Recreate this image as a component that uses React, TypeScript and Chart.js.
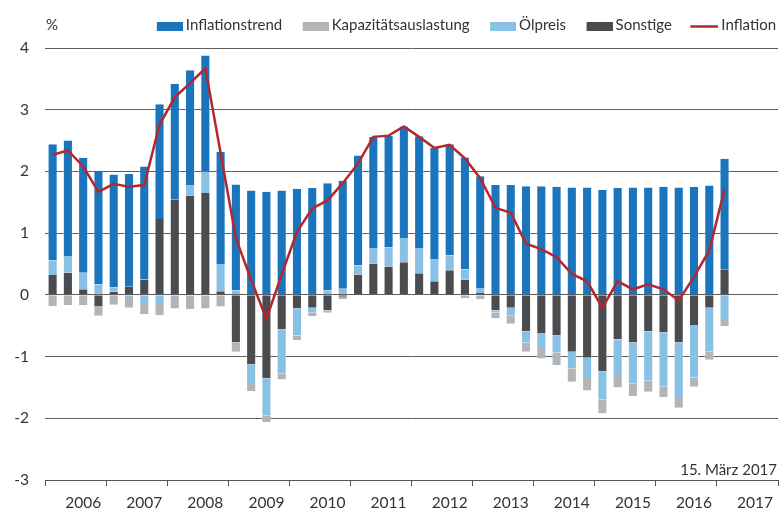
import React, { useEffect, useRef } from 'react';
import { Chart, registerables } from 'chart.js';

Chart.register(...registerables);

const years = ['2006', '2007', '2008', '2009', '2010', '2011', '2012', '2013', '2014', '2015', '2016', '2017'];
const quarters = years.flatMap((y) => ['Q1', 'Q2', 'Q3', 'Q4'].map((q) => `${y} ${q}`));

const inflationstrend = [1.88, 1.87, 1.86, 1.82, 1.83, 1.83, 1.83, 1.86, 1.88, 1.86, 1.88, 1.82, 1.72, 1.69, 1.67, 1.69, 1.72, 1.73, 1.74, 1.75, 1.78, 1.80, 1.81, 1.81, 1.81, 1.80, 1.80, 1.81, 1.81, 1.78, 1.78, 1.76, 1.76, 1.75, 1.74, 1.74, 1.70, 1.73, 1.74, 1.74, 1.75, 1.74, 1.75, 1.77, 1.79];
const kapazitaet = [-0.18, -0.17, -0.17, -0.16, -0.16, -0.16, -0.18, -0.18, -0.22, -0.23, -0.22, -0.19, -0.15, -0.13, -0.11, -0.09, -0.07, -0.065, -0.04, -0.04, 0, 0, 0, 0, 0, -0.01, -0.01, -0.05, -0.07, -0.09, -0.13, -0.15, -0.17, -0.20, -0.22, -0.22, -0.22, -0.20, -0.20, -0.18, -0.18, -0.16, -0.15, -0.13, -0.12];
const oelpreis = [0.24, 0.27, 0.27, 0.17, 0.07, -0.05, -0.13, -0.15, 0, 0.17, 0.35, 0.44, 0.07, -0.30, -0.60, -0.72, -0.44, -0.07, 0.07, 0.10, 0.15, 0.25, 0.31, 0.39, 0.41, 0.36, 0.24, 0.165, 0.08, -0.04, -0.13, -0.18, -0.24, -0.28, -0.27, -0.31, -0.46, -0.58, -0.67, -0.80, -0.87, -0.90, -0.85, -0.71, -0.39];
const sonstige = [0.32, 0.36, 0.09, -0.18, 0.05, 0.13, 0.25, 1.23, 1.54, 1.61, 1.65, 0.06, -0.77, -1.13, -1.35, -0.56, -0.22, -0.21, -0.25, -0.03, 0.33, 0.51, 0.46, 0.53, 0.35, 0.22, 0.40, 0.25, 0.03, -0.25, -0.21, -0.59, -0.62, -0.66, -0.92, -1.02, -1.24, -0.72, -0.77, -0.59, -0.61, -0.77, -0.49, -0.21, 0.415];
const inflation = [2.27, 2.34, 2.08, 1.67, 1.80, 1.75, 1.78, 2.76, 3.20, 3.43, 3.67, 2.30, 0.92, 0.24, -0.39, 0.33, 1.02, 1.40, 1.53, 1.81, 2.13, 2.56, 2.58, 2.73, 2.56, 2.38, 2.43, 2.21, 1.89, 1.41, 1.33, 0.83, 0.74, 0.61, 0.34, 0.22, -0.21, 0.22, 0.09, 0.17, 0.09, -0.09, 0.29, 0.72, 1.71];

const seriesLabels = ['Inflationstrend', 'Kapazitätsauslastung', 'Ölpreis', 'Sonstige', 'Inflation'];
const unitLabel = '%';
const dateLabel = '15. März 2017';

const COLORS = {
  trend: '#1a75bc',
  kap: '#b2b4b7',
  oel: '#88c0e6',
  sonst: '#4b4c50',
  infl: '#b5272c',
  text: '#333333',
  grid: '#5e5e5e',
};

const FONT = 'Lato, "Open Sans", sans-serif';

function makeSwatch(color: string, kind: 'box' | 'line'): HTMLCanvasElement {
  const c = document.createElement('canvas');
  c.width = 43;
  c.height = 11;
  const g = c.getContext('2d')!;
  if (kind === 'line') {
    g.strokeStyle = color;
    g.lineWidth = 2.5;
    g.beginPath();
    g.moveTo(15, 6.5);
    g.lineTo(43, 6.5);
    g.stroke();
  } else {
    g.fillStyle = color;
    g.fillRect(17, 2, 26, 9);
  }
  return c;
}

export default function App() {
  const ref = useRef<HTMLCanvasElement>(null);

  useEffect(() => {
    document.body.style.margin = '0';
    const canvas = ref.current;
    if (!canvas) return;

    const swatches = [
      makeSwatch(COLORS.trend, 'box'),
      makeSwatch(COLORS.kap, 'box'),
      makeSwatch(COLORS.oel, 'box'),
      makeSwatch(COLORS.sonst, 'box'),
      makeSwatch(COLORS.infl, 'line'),
    ];

    const legendGap = {
      id: 'legendGap',
      beforeLayout(chart: any) {
        const lg = chart.legend;
        if (lg && !lg.__gapPatched) {
          const origFit = lg.fit.bind(lg);
          lg.fit = function () {
            origFit();
            this.height += 5;
          };
          const origDraw = lg.draw.bind(lg);
          lg.draw = function () {
            const c = this.ctx;
            c.save();
            c.translate(6, 0);
            origDraw();
            c.restore();
          };
          lg.__gapPatched = true;
        }
      },
    };

    const annotations = {
      id: 'annotations',
      afterDraw(chart: any) {
        const { ctx, chartArea } = chart;
        ctx.save();
        ctx.font = `15px ${FONT}`;
        ctx.fillStyle = COLORS.text;
        ctx.textBaseline = 'alphabetic';
        ctx.textAlign = 'left';
        ctx.fillText(unitLabel, chartArea.left + 1, 30);
        ctx.textAlign = 'right';
        ctx.fillText(dateLabel, chartArea.right - 1, chartArea.bottom - 5);
        ctx.restore();
      },
    };

    const barCommon = {
      type: 'bar' as const,
      barPercentage: 0.66,
      categoryPercentage: 1,
      borderWidth: { left: 1, right: 1, top: 0, bottom: 0 },
      borderColor: 'rgba(255,255,255,0.3)',
      borderSkipped: false,
    };

    const chart = new Chart(canvas, {
      type: 'bar',
      data: {
        labels: quarters,
        datasets: [
          { ...barCommon, label: seriesLabels[0], data: inflationstrend, backgroundColor: COLORS.trend, order: 4 },
          { ...barCommon, label: seriesLabels[1], data: kapazitaet, backgroundColor: COLORS.kap, order: 3 },
          { ...barCommon, label: seriesLabels[2], data: oelpreis, backgroundColor: COLORS.oel, order: 2 },
          { ...barCommon, label: seriesLabels[3], data: sonstige, backgroundColor: COLORS.sonst, order: 1 },
          {
            type: 'line',
            label: seriesLabels[4],
            data: inflation,
            borderColor: COLORS.infl,
            backgroundColor: COLORS.infl,
            borderWidth: 2.5,
            pointRadius: 0,
            tension: 0,
            fill: false,
            order: 0,
          } as any,
        ],
      },
      options: {
        responsive: false,
        animation: false,
        devicePixelRatio: 1,
        layout: { padding: { top: 10, right: 4, left: 0, bottom: 0 } },
        plugins: {
          tooltip: { enabled: false },
          legend: {
            position: 'top',
            align: 'end',
            labels: {
              usePointStyle: true,
              pointStyleWidth: 34,
              padding: 8,
              color: COLORS.text,
              font: { family: FONT, size: 15 },
              generateLabels(ch: any) {
                const items = Chart.defaults.plugins.legend.labels.generateLabels(ch);
                return items
                  .map((it: any) => ({ ...it, pointStyle: swatches[it.datasetIndex], fontColor: COLORS.text }))
                  .sort((a: any, b: any) => a.datasetIndex - b.datasetIndex);
              },
            },
          },
        },
        scales: {
          x: {
            stacked: true,
            offset: true,
            border: { display: true, color: '#555555', width: 1 },
            grid: {
              offset: true,
              drawOnChartArea: false,
              drawTicks: true,
              tickLength: 6,
              color: (ctx: any) =>
                ctx.index === undefined || ctx.index % 4 === 0 ? '#555555' : 'rgba(0,0,0,0)',
            },
            ticks: {
              autoSkip: false,
              maxRotation: 0,
              minRotation: 0,
              padding: 8,
              color: COLORS.text,
              font: { family: FONT, size: 15.5 },
              callback: (_v: any, i: number) => (i % 4 === 2 ? years[Math.floor(i / 4)] : ''),
            },
            afterFit(scale: any) {
              scale.height = 33;
            },
          },
          y: {
            stacked: true,
            min: -3,
            max: 4,
            border: { display: false },
            grid: {
              drawTicks: false,
              color: COLORS.grid,
              lineWidth: 1,
            },
            ticks: {
              stepSize: 1,
              padding: 16,
              color: COLORS.text,
              font: { family: FONT, size: 15.5 },
              callback: (v: any) => String(v),
            },
            afterFit(scale: any) {
              scale.width = 45;
            },
          },
        },
      },
      plugins: [legendGap, annotations],
    });

    return () => chart.destroy();
  }, []);

  return (
    <div style={{ position: 'fixed', left: 0, top: 0, width: 782, height: 513 }}>
      <canvas ref={ref} width={782} height={513} />
    </div>
  );
}
